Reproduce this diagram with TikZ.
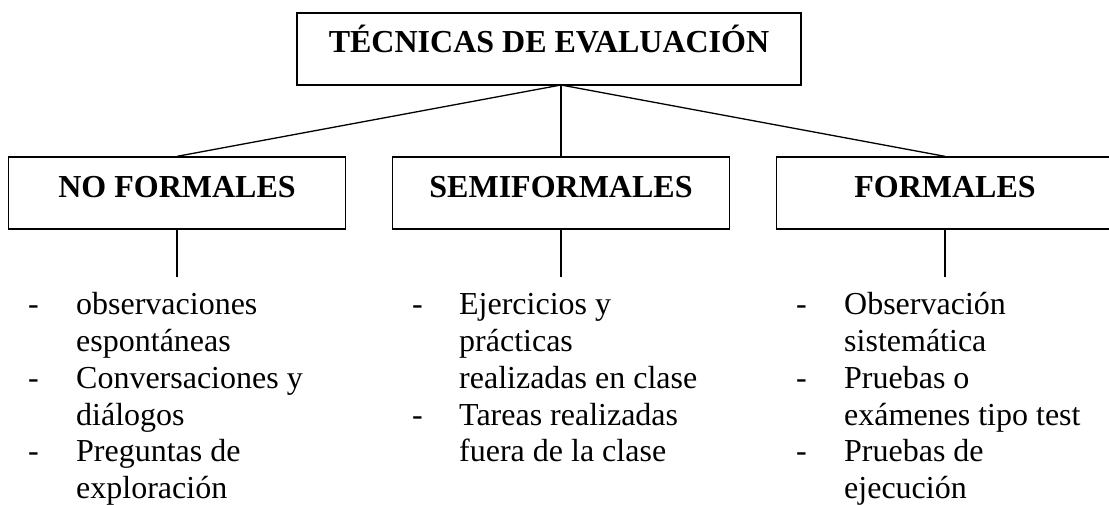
\documentclass[tikz,border=0pt]{standalone}
\usepackage{fontspec}
\setmainfont{Liberation Serif}
\begin{document}
\begin{tikzpicture}[x=1pt,y=1pt,
  box/.style={draw, line width=1.3pt, minimum width=337pt, minimum height=72pt,
    inner sep=0pt, font=\fontsize{32}{36.8}\selectfont\bfseries,
    text height=21pt, text depth=11pt},
  conn/.style={line width=1.3pt},
  items/.style={anchor=base west, inner sep=0pt, font=\fontsize{32}{36.7}\selectfont}]
\useasboundingbox (0,0) rectangle (1109,-505);
\clip (0,0) rectangle (1109,-505);

\node[box, minimum width=504pt, text height=21pt, text depth=13pt] (top) at (549,-49) {TÉCNICAS DE EVALUACIÓN};
\node[box] (nf) at (177,-193) {NO FORMALES};
\node[box] (sf) at (561,-193) {SEMIFORMALES};
\node[box] (fo) at (945,-193) {FORMALES};

\coordinate (j) at (561,-85);
\draw[conn] (j) -- (nf.north);
\draw[conn] (j) -- (sf.north);
\draw[conn] (j) -- (fo.north);

\coordinate (nfend) at (177,-277);
\coordinate (sfend) at (561,-277);
\coordinate (foend) at (945,-277);
\draw[conn] (nf.south) -- (nfend);
\draw[conn] (sf.south) -- (sfend);
\draw[conn] (fo.south) -- (foend);

\node[items] (nflist) at (28,-315) {\begin{tabular}[t]{@{}p{48pt}@{}l@{}}
-&observaciones\\
&espontáneas\\
-&Conversaciones y\\
&diálogos\\
-&Preguntas de\\
&exploración
\end{tabular}};

\node[items] (sflist) at (412,-315) {\begin{tabular}[t]{@{}p{47pt}@{}l@{}}
-&Ejercicios y\\
&prácticas\\
&realizadas en clase\\
-&Tareas realizadas\\
&fuera de la clase
\end{tabular}};

\node[items] (folist) at (796,-315) {\begin{tabular}[t]{@{}p{48pt}@{}l@{}}
-&Observación\\
&sistemática\\
-&Pruebas o\\
&exámenes tipo test\\
-&Pruebas de\\
&ejecución
\end{tabular}};
\end{tikzpicture}
\end{document}
